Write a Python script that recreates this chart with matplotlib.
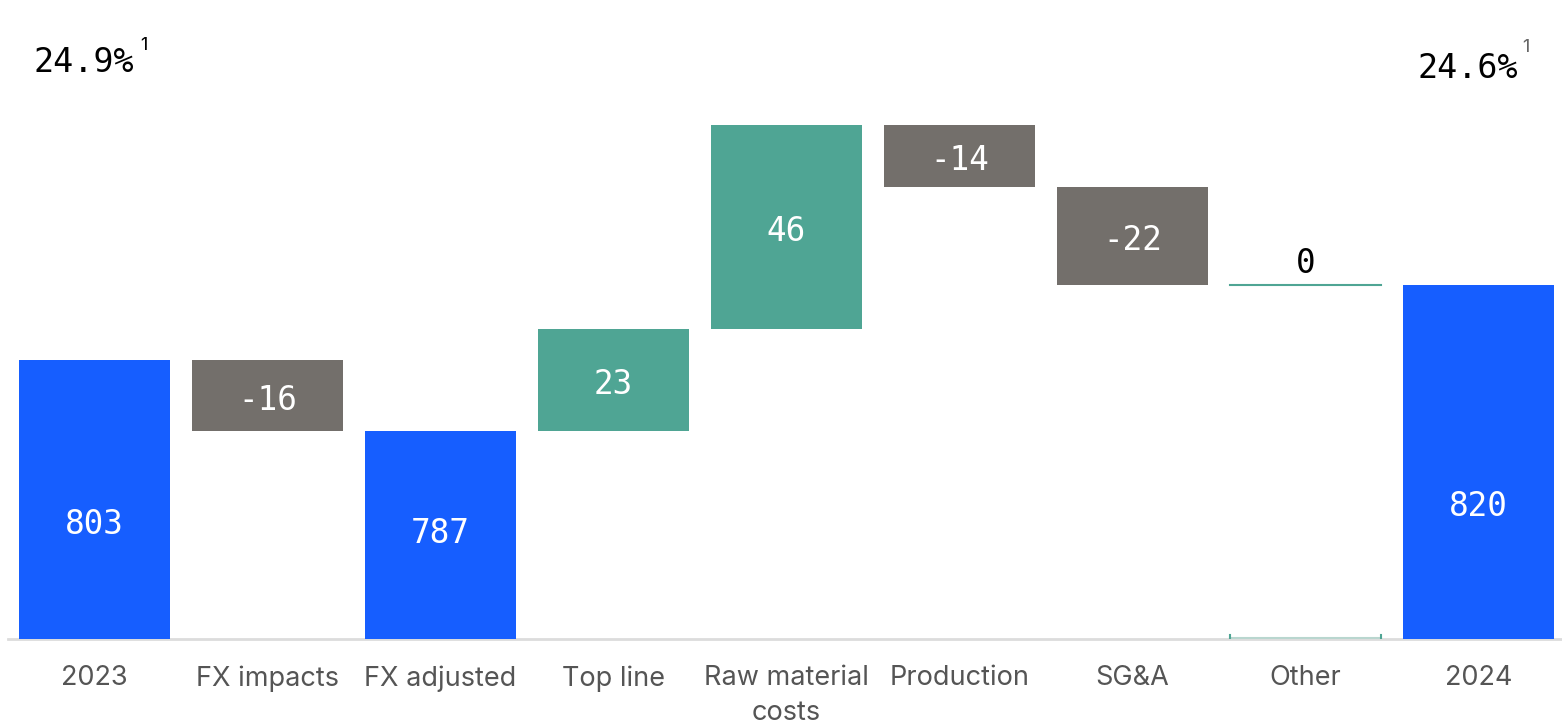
import matplotlib
matplotlib.use("Agg")
import matplotlib.pyplot as plt

categories = ["2023", "FX impacts", "FX adjusted", "Top line", "Raw material\ncosts",
              "Production", "SG&A", "Other", "2024"]
values = [803, -16, 787, 23, 46, -14, -22, 0, 820]
kinds = ["total", "delta", "total", "delta", "delta", "delta", "delta", "delta", "total"]
margin_left = "24.9%"
margin_right = "24.6%"

BLUE = "#165EFF"
TEAL = "#4FA594"
GRAY = "#736F6B"

fig = plt.figure(figsize=(15.62, 7.28), dpi=100)
ax = fig.add_axes([0, 89 / 728, 1, 639 / 728])
ymin = 740
ax.set_ylim(ymin, ymin + 639 / 4.43)
ax.set_xlim(-94.5 / 173, (1562 - 94.5) / 173)
ax.axis("off")

mono = "DejaVu Sans Mono"
sans = "Inter"
width = 151 / 173
LBL = 23.5


def label(x, y, s, color, va="center", dy=-3.5):
    ax.annotate(s, (x, y), xytext=(0, dy), textcoords="offset points", color=color,
                fontsize=LBL, family=mono, ha="center", va=va, zorder=3)


running = 0
total_label_y = {0: 767, 2: 765, 8: 771}
for i, (v, k) in enumerate(zip(values, kinds)):
    if k == "total":
        bottom, top = ymin, v
        running = v
        ax.bar(i, top - bottom, bottom=bottom, width=width, color=BLUE, zorder=2)
        label(i, total_label_y.get(i, (bottom + top) / 2), f"{v}", "white")
    else:
        start = running
        end = running + v
        running = end
        lo, hi = min(start, end), max(start, end)
        color = TEAL if v > 0 else GRAY
        if v == 0:
            ax.plot([i - width / 2, i + width / 2], [start, start], color=TEAL, lw=1.5, zorder=2)
            label(i, start + 2.5, "0", "black", va="bottom", dy=-5)
            ax.plot([i - width / 2, i + width / 2], [ymin + 0.2, ymin + 0.2], color="#B9D6CF",
                    lw=1.5, zorder=3)
            for xx in (i - width / 2, i + width / 2):
                ax.plot([xx, xx], [ymin, ymin + 0.8], color=TEAL, lw=1.5, zorder=3)
        else:
            ax.bar(i, hi - lo, bottom=lo, width=width, color=color, zorder=2)
            label(i, (lo + hi) / 2, f"{v}", "white")

ax.plot([8 / 173 - 94.5 / 173, (1562 - 94.5) / 173], [ymin, ymin], color="#DCDCDC",
        lw=2, zorder=1, clip_on=False)

for i, c in enumerate(categories):
    fig.text((94.5 + 173 * i) / 1562, 1 - 665 / 728, c, ha="center", va="top",
             fontsize=19.5, family=sans, color="#555555", linespacing=1.45)

fig.text(34 / 1562, 1 - 62 / 728, margin_left, ha="left", va="center", fontsize=24,
         family=mono, color="black")
fig.text(140 / 1562, 1 - 46 / 728, "1", ha="left", va="center", fontsize=13,
         family=sans, color="black")
fig.text(1417 / 1562, 1 - 69 / 728, margin_right, ha="left", va="center", fontsize=24,
         family=mono, color="black")
fig.text(1522 / 1562, 1 - 48 / 728, "1", ha="left", va="center", fontsize=13,
         family=sans, color="#666666")

fig.savefig("out.png", dpi=100)
